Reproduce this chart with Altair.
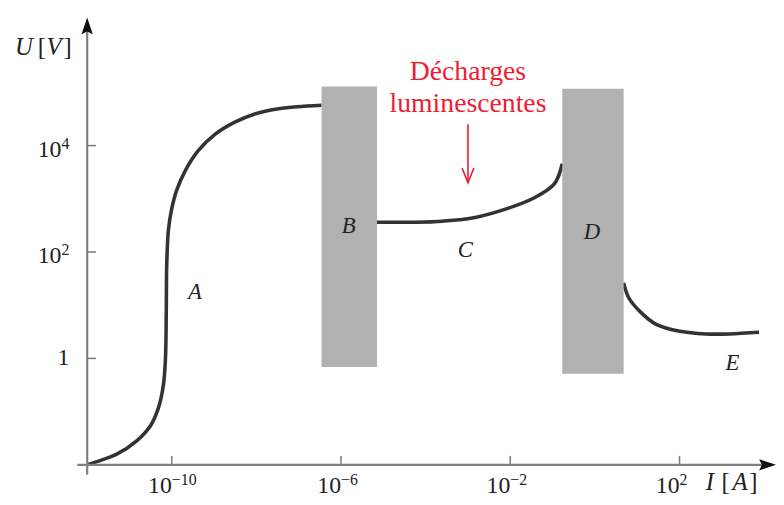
import altair as alt
import pandas as pd

# ---------------- data (log10 of I in A, log10 of U in V) ----------------
a_x = [-12.0, -11.77, -11.30, -10.83, -10.50, -10.32, -10.20, -10.15, -10.13, -10.12,
       -10.08, -10.01, -9.89, -9.68, -9.38, -8.98, -8.51, -8.02, -7.51, -7.04, -6.46]
a_y = [-2.0, -1.94, -1.80, -1.55, -1.26, -0.94, -0.51, -0.01, 0.92, 1.75,
       2.41, 2.78, 3.15, 3.53, 3.90, 4.21, 4.44, 4.60, 4.69, 4.73, 4.76]
c_x = [-5.15, -4.23, -3.60, -2.83, -2.06, -1.43, -0.96, -0.77]
c_y = [2.56, 2.56, 2.58, 2.65, 2.82, 3.02, 3.28, 3.66]
e_x = [0.68, 0.80, 1.08, 1.45, 2.01, 2.62, 3.18, 3.88]
e_y = [1.42, 1.14, 0.87, 0.64, 0.51, 0.46, 0.46, 0.49]

band_names = ["B", "D"]
band_x1 = [-6.46, -0.77]
band_x2 = [-5.15, 0.68]
band_y1 = [-0.16, -0.29]
band_y2 = [5.11, 5.07]

region_labels = ["A", "B", "C", "D", "E"]
region_x = [-9.45, -5.82, -3.06, -0.07, 3.25]
region_y = [1.24, 2.48, 2.04, 2.37, -0.08]

x_tick_vals = [-10, -6, -2, 2]
x_tick_base = ["10", "10", "10", "10"]
x_tick_exp = ["−10", "−6", "−2", "2"]
y_tick_vals = [0, 2, 4]
y_tick_base = ["1", "10", "10"]
y_tick_exp = ["", "2", "4"]

note_lines = ["Décharges", "luminescentes"]
note_x = [-3.0, -3.0]
note_y = [5.39, 4.79]
arrow_x = [-3.0]
arrow_y_top = [4.40]
arrow_y_tip = [3.30]

# ---------------- layout ----------------
W, H = 696, 452
XMIN, XMAX = -12.0, -12.0 + W / 42.75
YMIN, YMAX = -2.0, -2.0 + H / 53.75
xs = alt.Scale(domain=[XMIN, XMAX], nice=False, zero=False)
ys = alt.Scale(domain=[YMIN, YMAX], nice=False, zero=False)
SERIF = "Liberation Serif"
INK = "#333333"
TXT = "#222222"
GREY_AX = "#808080"
RED = "#ee1c34"

curve_df = pd.DataFrame({
    "lx": a_x + c_x + e_x,
    "ly": a_y + c_y + e_y,
    "seg": ["A"] * len(a_x) + ["C"] * len(c_x) + ["E"] * len(e_x),
    "order": list(range(len(a_x))) + list(range(len(c_x))) + list(range(len(e_x))),
})

curves = alt.Chart(curve_df).mark_line(
    color=INK, strokeWidth=3.6, interpolate="catmull-rom"
).encode(
    x=alt.X("lx:Q", scale=xs, axis=None),
    y=alt.Y("ly:Q", scale=ys, axis=None),
    detail="seg:N",
    order="order:Q",
)

band_df = pd.DataFrame({"name": band_names, "x1": band_x1, "x2": band_x2,
                        "y1": band_y1, "y2": band_y2})
bands = alt.Chart(band_df).mark_rect(color="#b1b1b1").encode(
    x=alt.X("x1:Q", scale=xs, axis=None), x2="x2:Q",
    y=alt.Y("y1:Q", scale=ys, axis=None), y2="y2:Q",
)

lab_df = pd.DataFrame({"t": region_labels, "x": region_x, "y": region_y})
labels = alt.Chart(lab_df).mark_text(
    font=SERIF, fontSize=23, fontStyle="italic", color=TXT, baseline="middle"
).encode(
    x=alt.X("x:Q", scale=xs, axis=None), y=alt.Y("y:Q", scale=ys, axis=None), text="t:N"
)

note_df = pd.DataFrame({"t": note_lines, "x": note_x, "y": note_y})
note = alt.Chart(note_df).mark_text(
    font=SERIF, fontSize=28, color=RED, baseline="middle"
).encode(
    x=alt.X("x:Q", scale=xs, axis=None), y=alt.Y("y:Q", scale=ys, axis=None), text="t:N"
)

arr_df = pd.DataFrame({"x": arrow_x, "y1": arrow_y_top, "y2": arrow_y_tip})
arrow_shaft = alt.Chart(arr_df).mark_rule(color=RED, strokeWidth=1.6).encode(
    x=alt.X("x:Q", scale=xs, axis=None),
    y=alt.Y("y1:Q", scale=ys, axis=None), y2="y2:Q",
)
arrow_head = alt.Chart(arr_df).mark_point(
    shape="M-0.4,-1 L0,0 L0.4,-1", filled=False, color=RED, strokeWidth=1.6,
    size=900, opacity=1
).encode(
    x=alt.X("x:Q", scale=xs, axis=None), y=alt.Y("y2:Q", scale=ys, axis=None)
)

one = pd.DataFrame({"k": [0]})
x_axis_line = alt.Chart(one).mark_rule(color=GREY_AX, strokeWidth=2.2).encode(
    x=alt.value(-10), x2=alt.value(W - 6), y=alt.value(H)
)
y_axis_line = alt.Chart(one).mark_rule(color=GREY_AX, strokeWidth=2.2).encode(
    x=alt.value(0), y=alt.value(6), y2=alt.value(H + 10)
)
x_arrow = alt.Chart(one).mark_point(
    shape="M1,0 L-0.8,0.6 L-0.5,0 L-0.8,-0.6 Z", filled=True, color="#111111",
    size=360, opacity=1
).encode(x=alt.value(W - 9.5), y=alt.value(H))
y_arrow = alt.Chart(one).mark_point(
    shape="M0,-1 L0.6,0.8 L0,0.5 L-0.6,0.8 Z", filled=True, color="#111111",
    size=360, opacity=1
).encode(x=alt.value(0), y=alt.value(9.5))

xt_df = pd.DataFrame({"v": x_tick_vals, "b": x_tick_base, "e": x_tick_exp})
yt_df = pd.DataFrame({"v": y_tick_vals, "b": y_tick_base, "e": y_tick_exp})
x_ticks = alt.Chart(xt_df).mark_rule(color=GREY_AX, strokeWidth=1.6).encode(
    x=alt.X("v:Q", scale=xs, axis=None), y=alt.value(H), y2=alt.value(H - 9)
)
y_ticks = alt.Chart(yt_df).mark_rule(color=GREY_AX, strokeWidth=1.6).encode(
    y=alt.Y("v:Q", scale=ys, axis=None), x=alt.value(0), x2=alt.value(9)
)

# x tick labels: base "10" + superscript exponent, centred as a whole on the tick
xlab = alt.Chart(xt_df).transform_calculate(
    split="(24 - length(datum.e) * 11.5) / 2"
)
x_base = xlab.mark_text(
    font=SERIF, fontSize=24, color=TXT, align="right", baseline="alphabetic"
).encode(
    x=alt.X("v:Q", scale=xs, axis=None),
    xOffset=alt.XOffset("split:Q", scale=None),
    y=alt.value(H + 29), text="b:N"
)
x_exp = xlab.mark_text(
    font=SERIF, fontSize=16, color=TXT, align="left", baseline="alphabetic"
).encode(
    x=alt.X("v:Q", scale=xs, axis=None),
    xOffset=alt.XOffset("split:Q", scale=None),
    y=alt.value(H + 20), text="e:N"
)

# y tick labels
y_base_pow = alt.Chart(yt_df).transform_filter("datum.e != ''").mark_text(
    font=SERIF, fontSize=24, color=TXT, align="right", baseline="middle", dx=-26, dy=4
).encode(y=alt.Y("v:Q", scale=ys, axis=None), x=alt.value(0), text="b:N")
y_base_one = alt.Chart(yt_df).transform_filter("datum.e == ''").mark_text(
    font=SERIF, fontSize=24, color=TXT, align="right", baseline="middle", dx=-18, dy=0
).encode(y=alt.Y("v:Q", scale=ys, axis=None), x=alt.value(0), text="b:N")
y_exp = alt.Chart(yt_df).transform_filter("datum.e != ''").mark_text(
    font=SERIF, fontSize=16, color=TXT, align="left", baseline="middle", dx=-26, dy=-2
).encode(y=alt.Y("v:Q", scale=ys, axis=None), x=alt.value(0), text="e:N")

# axis titles "U [V]" and "I [A]" (italic letters, upright brackets)
tit_it = pd.DataFrame({"t": ["U", "V", "I", "A"],
                       "px": [-73, -41, 625, 652],
                       "py": [38, 38, 477, 477]})
tit_rm = pd.DataFrame({"t": ["[", "]", "[", "]"],
                       "px": [-50, -24, 641, 669],
                       "py": [38, 38, 477, 477]})
titles_it = alt.Chart(tit_it).mark_text(
    font=SERIF, fontSize=25, fontStyle="italic", color=TXT,
    align="left", baseline="alphabetic"
).encode(x=alt.X("px:Q", scale=None, axis=None), y=alt.Y("py:Q", scale=None, axis=None), text="t:N")
titles_rm = alt.Chart(tit_rm).mark_text(
    font=SERIF, fontSize=25, color=TXT, align="left", baseline="alphabetic"
).encode(x=alt.X("px:Q", scale=None, axis=None), y=alt.Y("py:Q", scale=None, axis=None), text="t:N")

chart = alt.layer(
    curves, bands, labels, note, arrow_shaft, arrow_head,
    x_axis_line, y_axis_line, x_ticks, y_ticks, x_arrow, y_arrow,
    x_base, x_exp, y_base_pow, y_base_one, y_exp, titles_it, titles_rm,
).properties(
    width=W, height=H,
    autosize=alt.AutoSizeParams(type="none"),
    padding={"left": 80, "top": 7, "right": 0, "bottom": 30},
    background="white",
).configure_view(stroke=None)

chart.save("out.html", embed_options={"renderer": "svg", "actions": False})
